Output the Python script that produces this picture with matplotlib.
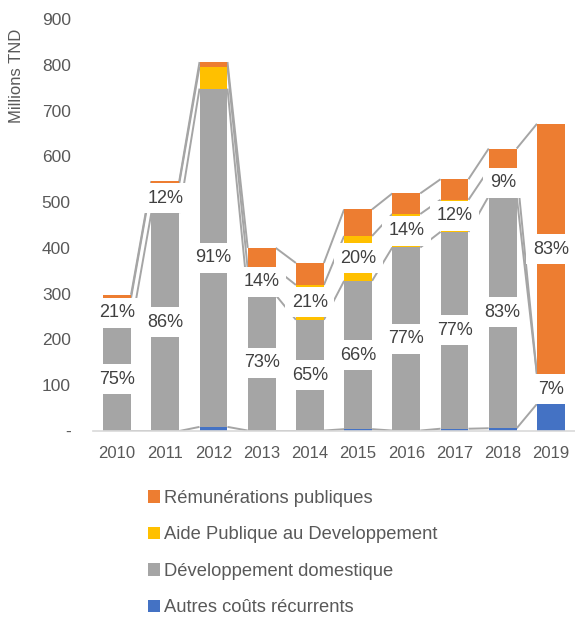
import matplotlib
matplotlib.use("Agg")
import matplotlib.pyplot as plt
from matplotlib.patches import Patch
import numpy as np

plt.rcParams['font.family'] = ['Liberation Sans', 'DejaVu Sans']

years = ["2010", "2011", "2012", "2013", "2014", "2015", "2016", "2017", "2018", "2019"]
autres = [0, 0, 9, 1, 1, 4, 1, 5, 6, 59]
domestique = [226, 476, 739, 296, 242, 324, 400, 430, 507, 64]
apd = [65, 65, 48, 57, 76, 98, 73, 70, 58, 0]
remun = [7, 5, 10, 46, 48, 58, 45, 45, 46, 548]

lab_autres = [None] * 10
lab_domestique = ["75%", "86%", "91%", "73%", "65%", "66%", "77%", "77%", "83%", "7%"]
lab_apd = ["21%", "12%", None, "14%", "21%", "20%", "14%", "12%", "9%", None]
lab_remun = [None, None, None, None, None, None, None, None, None, "83%"]

series = [
    ("Autres coûts récurrents", autres, "#4472C4", lab_autres),
    ("Développement domestique", domestique, "#A5A5A5", lab_domestique),
    ("Aide Publique au Developpement", apd, "#FFC000", lab_apd),
    ("Rémunérations publiques", remun, "#ED7D31", lab_remun),
]

W, H = 575, 617
fig = plt.figure(figsize=(W / 100, H / 100), dpi=100)
ax = fig.add_axes([93 / W, 186 / H, 482 / W, 412 / H])

x = np.arange(len(years))
width = 0.58
text_col = "#595959"

bottom = np.zeros(len(years))
for name, vals, col, labs in series:
    v = np.array(vals, dtype=float)
    ax.bar(x, v, width, bottom=bottom, color=col, zorder=2, linewidth=0)
    top = bottom + v
    # series lines
    for i in range(len(years) - 1):
        ax.plot([x[i] + width / 2, x[i + 1] - width / 2], [top[i], top[i + 1]],
                color="#A5A5A5", lw=1.4, zorder=1.5, solid_capstyle="butt")
    for i, lab in enumerate(labs):
        if lab:
            ax.text(x[i], bottom[i] + v[i] / 2, lab, ha="center", va="center",
                    fontsize=13, color="#404040", zorder=5,
                    bbox=dict(boxstyle="square,pad=0.36", fc="white", ec="none"))
    bottom = top

ax.set_xlim(-0.5, len(years) - 0.5)
ax.set_ylim(0, 900)
ax.set_yticks(np.arange(0, 901, 100))
ax.set_yticklabels(["-"] + [str(t) for t in range(100, 901, 100)])
ax.set_xticks(x)
ax.set_xticklabels(years)
ax.tick_params(axis="y", length=0, pad=16, labelsize=12.5, labelcolor=text_col)
ax.tick_params(axis="x", length=0, pad=11, labelsize=12, labelcolor=text_col)
for s in ["left", "right", "top"]:
    ax.spines[s].set_visible(False)
ax.spines["bottom"].set_color("#D9D9D9")
ax.spines["bottom"].set_linewidth(1.2)
ax.spines["bottom"].set_zorder(3)

fig.text(17 / W, 1 - 76 / H, "Millions TND", rotation=90, ha="center", va="center",
         fontsize=12, color=text_col)

handles = [Patch(facecolor=col, edgecolor="none") for _, _, col, _ in series[::-1]]
labels = [name for name, _, _, _ in series[::-1]]
fig.legend(handles, labels, loc="upper left", bbox_to_anchor=(148 / W, 1 - 490 / H),
           frameon=False, fontsize=13.2, handlelength=0.68, handleheight=0.68,
           handletextpad=0.22, labelspacing=1.06, borderpad=0, borderaxespad=0,
           labelcolor=text_col)

fig.savefig("out.png", dpi=100)
